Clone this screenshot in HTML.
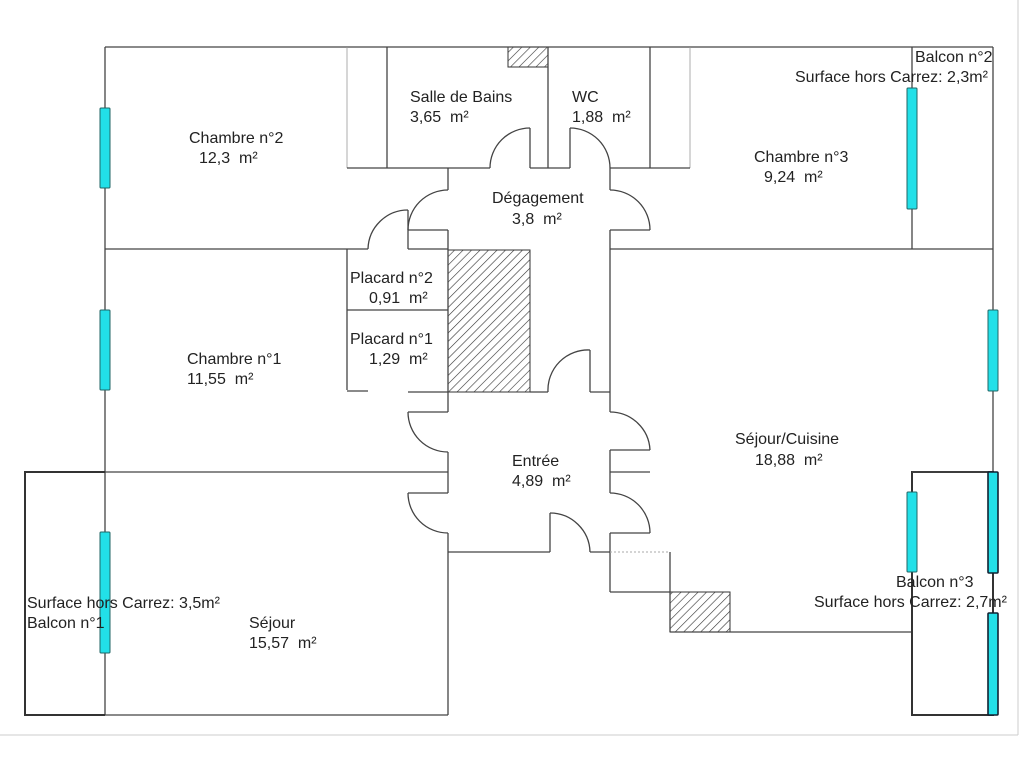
<!DOCTYPE html>
<html><head><meta charset="utf-8"><style>
html,body{margin:0;padding:0;background:#fff}
svg{display:block}
text{font-family:"Liberation Sans",Arial,sans-serif;font-size:16px;fill:#222;white-space:pre}
</style></head><body>
<svg width="1024" height="759" viewBox="0 0 1024 759" xmlns="http://www.w3.org/2000/svg">
<defs>
<pattern id="h" width="6" height="6" patternUnits="userSpaceOnUse" patternTransform="rotate(45)">
<rect width="6" height="6" fill="#fff"/><line x1="0" y1="0" x2="0" y2="6" stroke="#333" stroke-width="1.2"/>
</pattern>
</defs>
<line x1="1018" y1="0" x2="1018" y2="735" stroke="#ccc" stroke-width="1"/>
<line x1="0" y1="735" x2="1018" y2="735" stroke="#ccc" stroke-width="1"/>
<rect x="508" y="47" width="40" height="20" fill="url(#h)" stroke="#333"/>
<rect x="448" y="250" width="82" height="142" fill="url(#h)" stroke="#333"/>
<rect x="670" y="592" width="60" height="40" fill="url(#h)" stroke="#333"/>
<g stroke="#444" stroke-width="1.3" fill="none">
<line x1="105" y1="47" x2="993" y2="47"/>
<line x1="105" y1="47" x2="105" y2="715"/>
<line x1="105" y1="715" x2="448" y2="715"/>
<line x1="105" y1="249" x2="347" y2="249"/>
<line x1="105" y1="472" x2="448" y2="472"/>
<line x1="347" y1="47" x2="347" y2="168" stroke="#999" stroke-width="0.8"/>
<line x1="690" y1="47" x2="690" y2="168" stroke="#999" stroke-width="0.8"/>
<line x1="387" y1="47" x2="387" y2="168"/>
<line x1="548" y1="47" x2="548" y2="168"/>
<line x1="650" y1="47" x2="650" y2="168"/>
<line x1="347" y1="168" x2="490" y2="168"/>
<line x1="530" y1="128" x2="530" y2="168"/>
<path d="M490 168 A40 40 0 0 1 530 128"/>
<line x1="530" y1="168" x2="570" y2="168"/>
<line x1="570" y1="128" x2="570" y2="168"/>
<path d="M570 128 A40 40 0 0 1 610 168"/>
<line x1="610" y1="168" x2="690" y2="168"/>
<line x1="448" y1="168" x2="448" y2="190"/>
<path d="M448 190 A40 40 0 0 0 408 230"/>
<line x1="408" y1="230" x2="448" y2="230"/>
<line x1="448" y1="230" x2="448" y2="392"/>
<line x1="408" y1="210" x2="408" y2="249"/>
<path d="M368 249 A40 40 0 0 1 408 210"/>
<line x1="347" y1="249" x2="368" y2="249"/>
<line x1="408" y1="249" x2="448" y2="249"/>
<line x1="347" y1="249" x2="347" y2="390"/>
<line x1="347" y1="310" x2="448" y2="310"/>
<line x1="347" y1="391" x2="368" y2="391"/>
<line x1="408" y1="392" x2="448" y2="392"/>
<line x1="610" y1="168" x2="610" y2="190"/>
<path d="M610 190 A40 40 0 0 1 650 230"/>
<line x1="610" y1="230" x2="650" y2="230"/>
<line x1="610" y1="230" x2="610" y2="392"/>
<line x1="610" y1="249" x2="993" y2="249"/>
<line x1="993" y1="47" x2="993" y2="472"/>
<line x1="912" y1="47" x2="912" y2="249"/>
<line x1="530" y1="392" x2="548" y2="392"/>
<path d="M548 392 A40 40 0 0 1 590 350"/>
<line x1="590" y1="350" x2="590" y2="392"/>
<line x1="590" y1="392" x2="610" y2="392"/>
<line x1="610" y1="392" x2="610" y2="412"/>
<path d="M610 412 A40 40 0 0 1 650 450"/>
<line x1="610" y1="450" x2="650" y2="450"/>
<line x1="610" y1="450" x2="610" y2="493"/>
<line x1="610" y1="472" x2="650" y2="472"/>
<path d="M610 493 A40 40 0 0 1 650 533"/>
<line x1="610" y1="533" x2="650" y2="533"/>
<line x1="610" y1="533" x2="610" y2="592"/>
<line x1="610" y1="592" x2="670" y2="592"/>
<line x1="610" y1="552" x2="670" y2="552" stroke="#aaa" stroke-dasharray="2,2" stroke-width="1"/>
<line x1="670" y1="552" x2="670" y2="632"/>
<line x1="670" y1="632" x2="912" y2="632"/>
<line x1="448" y1="552" x2="550" y2="552"/>
<line x1="550" y1="513" x2="550" y2="552"/>
<path d="M550 513 A40 40 0 0 1 590 552"/>
<line x1="590" y1="552" x2="610" y2="552"/>
<line x1="448" y1="392" x2="448" y2="412"/>
<line x1="408" y1="412" x2="448" y2="412"/>
<path d="M408 412 A40 40 0 0 0 448 452"/>
<line x1="448" y1="452" x2="448" y2="493"/>
<line x1="408" y1="493" x2="448" y2="493"/>
<path d="M408 493 A40 40 0 0 0 448 533"/>
<line x1="448" y1="533" x2="448" y2="715"/>
</g>
<g stroke="#333" stroke-width="2" fill="none">
<path d="M105 472 H25 V715 H105"/>
<path d="M912 632 V715 H993 V472 H912 V632"/>
</g>
<line x1="912" y1="472" x2="993" y2="472" stroke="#444" stroke-width="1.3"/>
<g fill="#22e0e8" stroke="#266" stroke-width="1">
<rect x="100" y="108" width="10" height="80" rx="1"/>
<rect x="100" y="310" width="10" height="80" rx="1"/>
<rect x="100" y="532" width="10" height="121" rx="1"/>
<rect x="907" y="88" width="10" height="121" rx="1"/>
<rect x="907" y="492" width="10" height="80" rx="1"/>
<rect x="988" y="310" width="10" height="81" rx="1"/>
<rect x="988" y="472" width="10" height="101" rx="1" stroke="#123" stroke-width="1.6"/>
<rect x="988" y="613" width="10" height="102" rx="1" stroke="#123" stroke-width="1.6"/>
</g>
<text x="189" y="143">Chambre n°2</text><text x="199" y="163">12,3  m²</text>
<text x="410" y="102">Salle de Bains</text><text x="410" y="122">3,65  m²</text>
<text x="572" y="102">WC</text><text x="572" y="122">1,88  m²</text>
<text x="492" y="203">Dégagement</text><text x="512" y="224">3,8  m²</text>
<text x="754" y="162">Chambre n°3</text><text x="764" y="182">9,24  m²</text>
<text x="915" y="62">Balcon n°2</text><text x="795" y="82">Surface hors Carrez: 2,3m²</text>
<text x="350" y="283">Placard n°2</text><text x="369" y="303">0,91  m²</text>
<text x="350" y="344">Placard n°1</text><text x="369" y="364">1,29  m²</text>
<text x="187" y="364">Chambre n°1</text><text x="187" y="384">11,55  m²</text>
<text x="512" y="466">Entrée</text><text x="512" y="486">4,89  m²</text>
<text x="735" y="444">Séjour/Cuisine</text><text x="755" y="465">18,88  m²</text>
<text x="896" y="587">Balcon n°3</text><text x="814" y="607">Surface hors Carrez: 2,7m²</text>
<text x="27" y="608">Surface hors Carrez: 3,5m²</text><text x="27" y="628">Balcon n°1</text>
<text x="249" y="628">Séjour</text><text x="249" y="648">15,57  m²</text>
</svg>
</body></html>
